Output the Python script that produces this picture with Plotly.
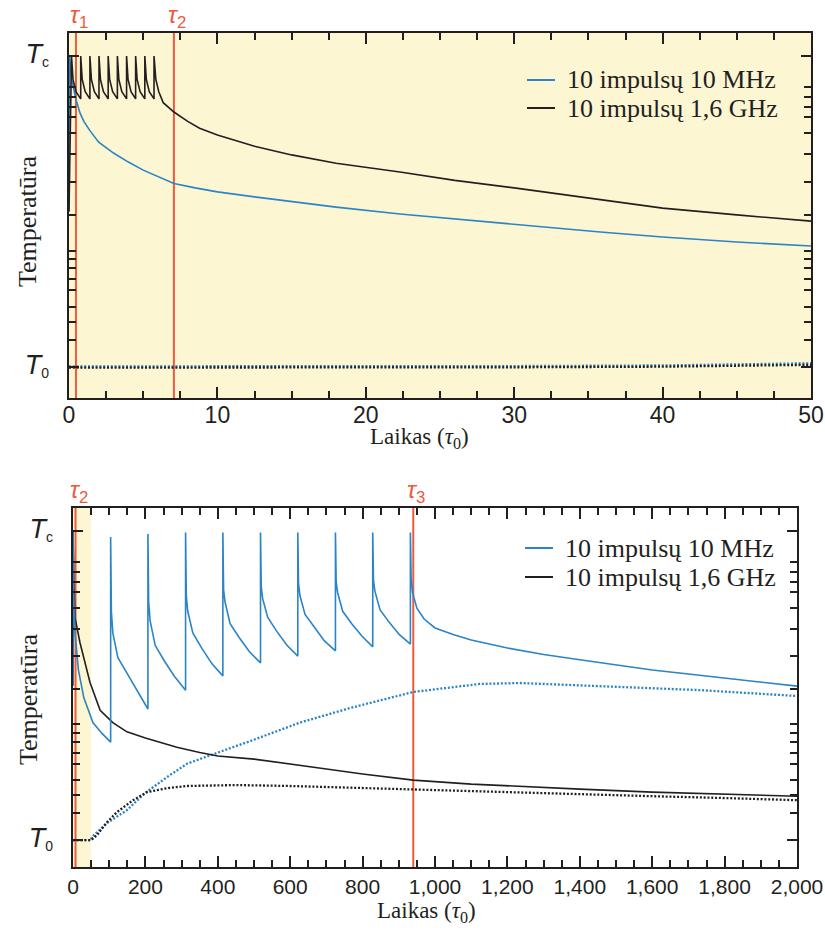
import plotly.graph_objects as go

# ---------------- data (values in normalised temperature units: T0 = 0, Tc = 1) -------------
# top panel (time 0..50 tau0)
top_tau_t = [0.47, 7.07]
top_tau_names = ["1", "2"]

top_blue_t = [0, 0.04, 0.2, 0.47, 0.74, 1.0, 1.41, 2.0, 3.0, 4.0, 5.0, 6.0, 7.07, 8.5, 10, 12.5, 15, 18, 22.3, 26, 30, 35.8, 40, 45, 50]
top_blue_v = [0.5, 1.0, 0.92, 0.86, 0.817, 0.79, 0.76, 0.723, 0.688, 0.659, 0.633, 0.611, 0.59, 0.576, 0.563, 0.547, 0.531, 0.514, 0.492, 0.476, 0.457, 0.434, 0.418, 0.402, 0.389]

top_black_t = [0, 0.17, 0.27, 0.47, 0.79,
               0.79, 0.89, 1.09, 1.41,
               1.41, 1.51, 1.71, 2.02,
               2.02, 2.12, 2.32, 2.64,
               2.64, 2.74, 2.94, 3.26,
               3.26, 3.36, 3.56, 3.88,
               3.88, 3.98, 4.18, 4.49,
               4.49, 4.59, 4.79, 5.11,
               5.11, 5.21, 5.41, 5.73,
               5.73, 5.85, 6.05, 6.35, 7.07, 8.0, 8.8, 10, 12.5, 15, 18, 22.3, 26, 30, 35.8, 40, 45, 50]
top_black_v = [0.5, 1.0, 0.925, 0.885, 0.862,
               1.0, 0.925, 0.885, 0.862,
               1.0, 0.925, 0.885, 0.862,
               1.0, 0.925, 0.885, 0.862,
               1.0, 0.925, 0.885, 0.862,
               1.0, 0.925, 0.885, 0.862,
               1.0, 0.925, 0.885, 0.862,
               1.0, 0.925, 0.885, 0.862,
               1.0, 0.925, 0.885, 0.862,
               1.0, 0.925, 0.885, 0.85, 0.82, 0.79, 0.768, 0.746, 0.71, 0.682, 0.655, 0.627, 0.6, 0.576, 0.537, 0.511, 0.489, 0.469]

top_blue_dot_t = [0, 10, 20, 30, 40, 45, 50]
top_blue_dot_v = [0.002, 0.002, 0.002, 0.003, 0.005, 0.008, 0.012]
top_black_dot_t = [0, 10, 20, 30, 40, 45, 50]
top_black_dot_v = [-0.002, -0.002, -0.002, -0.001, 0.001, 0.004, 0.007]

# bottom panel (time 0..2000 tau0)
bot_tau_t = [7, 940]
bot_tau_names = ["2", "3"]

bot_blue_t = [0, 0, 2, 5.5, 15, 30, 55, 80, 104,
              104, 106, 110, 124, 149, 177, 207,
              207, 209, 213, 227, 252, 280, 311,
              311, 313, 317, 331, 356, 384, 414,
              414, 416, 420, 434, 459, 487, 518,
              518, 520, 524, 538, 563, 591, 621,
              621, 623, 627, 641, 666, 694, 725,
              725, 727, 731, 745, 770, 798, 828,
              828, 830, 834, 848, 873, 901, 932,
              932, 934, 938, 950, 970, 1000, 1050, 1100, 1200, 1300, 1400, 1500, 1600, 1700, 1800, 1900, 2000]
bot_blue_v = [0.5, 1.0, 0.80, 0.67, 0.55, 0.46, 0.38, 0.345, 0.317,
              0.98, 0.74, 0.67, 0.59, 0.54, 0.485, 0.424,
              0.99, 0.77, 0.71, 0.63, 0.58, 0.53, 0.485,
              0.995, 0.79, 0.74, 0.67, 0.62, 0.57, 0.531,
              0.995, 0.81, 0.77, 0.70, 0.655, 0.61, 0.573,
              0.995, 0.82, 0.78, 0.72, 0.675, 0.63, 0.595,
              0.995, 0.83, 0.79, 0.73, 0.69, 0.645, 0.612,
              0.995, 0.835, 0.80, 0.74, 0.70, 0.66, 0.625,
              0.995, 0.84, 0.805, 0.745, 0.705, 0.665, 0.634,
              0.995, 0.85, 0.80, 0.75, 0.715, 0.686, 0.665, 0.647, 0.621, 0.60, 0.583, 0.566, 0.55, 0.537, 0.524, 0.511, 0.498]

bot_black_t = [0, 0, 2, 5.5, 19, 47, 75, 110, 149, 200, 240, 287, 350, 400, 500, 600, 700, 800, 940, 1100, 1200, 1400, 1600, 1800, 2000]
bot_black_v = [0.5, 1.0, 0.85, 0.72, 0.64, 0.51, 0.42, 0.38, 0.35, 0.33, 0.317, 0.30, 0.283, 0.272, 0.262, 0.245, 0.23, 0.214, 0.194, 0.181, 0.175, 0.165, 0.155, 0.149, 0.142]

bot_blue_dot_t = [0, 50, 52, 94, 149, 199, 260, 315, 400, 489, 627, 765, 940, 1124, 1235, 1456, 1732, 2000]
bot_blue_dot_v = [0, 0, 0.01, 0.055, 0.097, 0.152, 0.204, 0.247, 0.283, 0.32, 0.38, 0.427, 0.479, 0.505, 0.508, 0.498, 0.485, 0.466]

bot_black_dot_t = [0, 50, 66, 94, 122, 166, 204, 260, 315, 400, 450, 600, 800, 940, 1200, 1400, 1600, 1800, 2000]
bot_black_dot_v = [0, 0, 0.016, 0.058, 0.091, 0.129, 0.155, 0.168, 0.175, 0.178, 0.178, 0.175, 0.168, 0.165, 0.155, 0.149, 0.142, 0.136, 0.129]

# tick marks
top_x_major = [0, 10, 20, 30, 40, 50]
top_x_labels = ["0", "10", "20", "30", "40", "50"]
top_x_minor = [2.5, 5, 7.5, 12.5, 15, 17.5, 22.5, 25, 27.5, 32.5, 35, 37.5, 42.5, 45, 47.5]
bot_x_major = [0, 200, 400, 600, 800, 1000, 1200, 1400, 1600, 1800, 2000]
bot_x_labels = ["0", "200", "400", "600", "800", "1,000", "1,200", "1,400", "1,600", "1,800", "2,000"]
bot_x_minor = [v for v in range(50, 2000, 50) if v % 200 != 0]
y_major = [0, 1]
y_labels = ['<span style="font-size:27px"><i>T</i></span><sub>0</sub>',
            '<span style="font-size:27px"><i>T</i></span><sub>c</sub>']
y_minor = [0.088, 0.146, 0.193, 0.246, 0.283, 0.318, 0.346, 0.374, 0.488, 0.594,
           0.684, 0.752, 0.803, 0.836, 0.868, 0.900]

legend_names = ["10 impulsų 10 MHz", "10 impulsų 1,6 GHz"]

# ---------------- styling ----------------
W, H = 825, 932
BLUE = "#2a84c6"
BLACK = "#231f20"
RED = "#ef5a3c"
YEL = "#fdf6d3"
SERIF = "Liberation Serif, Times New Roman, serif"
SANS = "Liberation Sans, Arial, sans-serif"


def px(x):
    return x / W


def py(y):
    return 1 - y / H


fig = go.Figure()


def line(xs, ys, xa, ya, color, dotted=False):
    fig.add_trace(go.Scatter(
        x=xs, y=ys, xaxis=xa, yaxis=ya, mode="lines", showlegend=False, hoverinfo="skip",
        line=dict(color=color, width=2.3 if dotted else 1.6, dash="2px,1.8px" if dotted else "solid",
                  shape="linear")))


line(top_blue_dot_t, top_blue_dot_v, "x", "y", BLUE, True)
line(top_black_dot_t, top_black_dot_v, "x", "y", BLACK, True)
line(top_blue_t, top_blue_v, "x", "y", BLUE)
line(top_black_t, top_black_v, "x", "y", BLACK)

line(bot_blue_dot_t, bot_blue_dot_v, "x2", "y2", BLUE, True)
line(bot_black_dot_t, bot_black_dot_v, "x2", "y2", BLACK, True)
line(bot_black_t, bot_black_v, "x2", "y2", BLACK)
line(bot_blue_t, bot_blue_v, "x2", "y2", BLUE)


def xaxis(domain, rng, major, labels, minor, size, anchor, standoff):
    return dict(domain=domain, range=rng, anchor=anchor, tickmode="array", tickvals=major, ticktext=labels,
                ticks="inside", ticklen=11, tickwidth=1.5, tickcolor=BLACK, automargin=False,
                minor=dict(tickmode="array", tickvals=minor, ticks="inside", ticklen=7, tickwidth=1.5, tickcolor=BLACK),
                showline=True, linecolor=BLACK, linewidth=2, mirror="ticks", showgrid=False, zeroline=False,
                ticklabelstandoff=standoff,
                tickfont=dict(family=SANS, size=size, color=BLACK))


def yaxis(domain, rng, anchor):
    return dict(domain=domain, range=rng, anchor=anchor, tickmode="array", tickvals=y_major, ticktext=y_labels,
                ticks="inside", ticklen=10, tickwidth=1.5, tickcolor=BLACK, automargin=False,
                minor=dict(tickmode="array", tickvals=y_minor, ticks="inside", ticklen=7, tickwidth=1.5, tickcolor=BLACK),
                showline=True, linecolor=BLACK, linewidth=2, mirror="ticks", showgrid=False, zeroline=False,
                ticklabelstandoff=14,
                tickfont=dict(family=SANS, size=20, color=BLACK))


shapes = [
    dict(type="rect", xref="x", yref="y domain", x0=0, x1=50, y0=0, y1=1, fillcolor=YEL, line_width=0, layer="below"),
    dict(type="rect", xref="x2", yref="y2 domain", x0=0, x1=50, y0=0, y1=1, fillcolor=YEL, line_width=0, layer="below"),
]
annotations = []
for t, n in zip(top_tau_t, top_tau_names):
    shapes.append(dict(type="line", xref="x", yref="y domain", x0=t, x1=t, y0=0, y1=1,
                       line=dict(color=RED, width=2), layer="below"))
    annotations.append(dict(xref="x", yref="paper", x=t, y=py(17), xanchor="center", yanchor="middle", xshift=3,
                            text=f"<i>τ</i><sub>{n}</sub>", showarrow=False, font=dict(family=SANS, size=24, color=RED)))
for t, n in zip(bot_tau_t, bot_tau_names):
    shapes.append(dict(type="line", xref="x2", yref="y2 domain", x0=t, x1=t, y0=0, y1=1,
                       line=dict(color=RED, width=2), layer="below"))
    annotations.append(dict(xref="x2", yref="paper", x=t, y=py(491), xanchor="center", yanchor="middle", xshift=3,
                            text=f"<i>τ</i><sub>{n}</sub>", showarrow=False, font=dict(family=SANS, size=24, color=RED)))

# legends (drawn as text + short sample lines)
for (lx, ly0, dy) in [(527, 80, 28), (525, 548, 29)]:
    for i, (name, col) in enumerate(zip(legend_names, [BLUE, BLACK])):
        yy = ly0 + i * dy
        shapes.append(dict(type="line", xref="paper", yref="paper", x0=px(lx), x1=px(lx + 28), y0=py(yy), y1=py(yy),
                           line=dict(color=col, width=2)))
        annotations.append(dict(xref="paper", yref="paper", x=px(lx + 38), y=py(yy), xanchor="left", yanchor="middle",
                                text=name, showarrow=False, font=dict(family=SERIF, size=26, color=BLACK)))

# axis titles
for (cx, cy) in [(420, 438), (426, 912)]:
    annotations.append(dict(xref="paper", yref="paper", x=px(cx), y=py(cy), xanchor="center", yanchor="middle",
                            text="Laikas (<i>τ</i><sub>0</sub>)", showarrow=False,
                            font=dict(family=SERIF, size=23, color=BLACK)))
for (cx, cy) in [(27, 222), (28, 700)]:
    annotations.append(dict(xref="paper", yref="paper", x=px(cx), y=py(cy), xanchor="center", yanchor="middle",
                            text="Temperatūra", textangle=-90, showarrow=False,
                            font=dict(family=SERIF, size=26, color=BLACK)))

fig.update_layout(
    width=W, height=H, margin=dict(l=0, r=0, t=0, b=0, autoexpand=False),
    paper_bgcolor="white", plot_bgcolor="white", showlegend=False,
    xaxis=xaxis([px(69), px(811)], [0, 50], top_x_major, top_x_labels, top_x_minor, 23, "y", -5),
    yaxis=yaxis([py(398), py(33)], [-0.0997, 1.074], "x"),
    xaxis2=xaxis([px(73), px(797)], [0, 2000], bot_x_major, bot_x_labels, bot_x_minor, 21, "y2", 0),
    yaxis2=yaxis([py(867), py(508)], [-0.087, 1.074], "x2"),
    shapes=shapes, annotations=annotations,
)

fig.write_html("out.html")
